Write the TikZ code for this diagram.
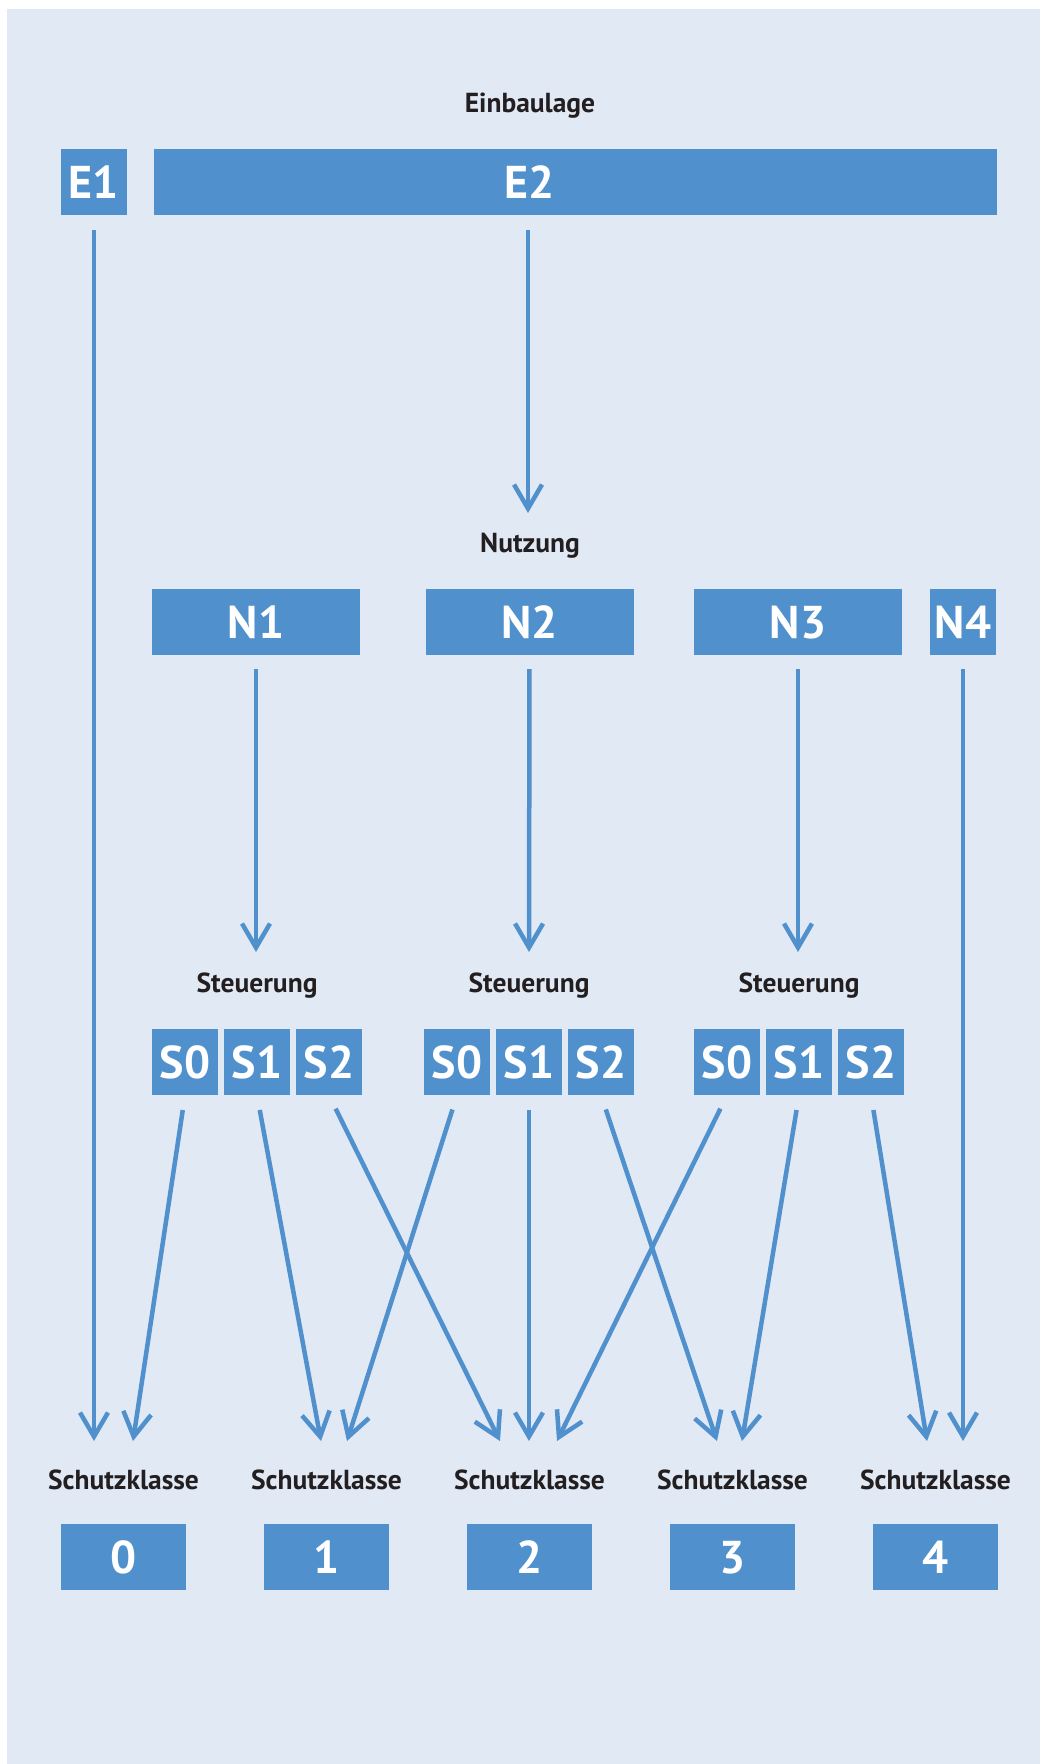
\documentclass[tikz,border=0pt]{standalone}
\usepackage{fontspec}
\setmainfont{PT Sans}
\usetikzlibrary{arrows.meta}
\definecolor{bgblue}{RGB}{225,233,245}
\definecolor{boxblue}{RGB}{80,145,205}
\definecolor{txt}{RGB}{35,31,32}
\tikzset{
  box/.style={fill=boxblue, draw=none, inner sep=0pt, text=white,
    font=\fontsize{46}{46}\selectfont\bfseries, text height=32pt, text depth=0pt,
    minimum height=66pt},
  boxtext/.style={inner sep=0pt, text=white,
    font=\fontsize{46}{46}\selectfont\bfseries, text height=32pt, text depth=0pt},
  lbl/.style={anchor=base, text=txt, inner sep=0pt, font=\fontsize{27.5}{28}\selectfont\bfseries},
  conn/.style={draw=boxblue, line width=4.5pt,
    -{Straight Barb[length=24pt,width=28pt,line width=4.5pt]}},
}
\begin{document}
\begin{tikzpicture}[x=1pt,y=-1pt]
\useasboundingbox (0,0) rectangle (1040,1764);
\fill[bgblue] (7,9) rectangle (1040,1764);
% labels
\node[lbl] (lE) at (530,112) {Einbaulage};
\node[lbl] (lN) at (530,552) {Nutzung};
\node[lbl] (lS1) at (257,992) {Steuerung};
\node[lbl] (lS2) at (529,992) {Steuerung};
\node[lbl] (lS3) at (799,992) {Steuerung};
\foreach \i/\x in {0/123.5,1/326.5,2/529.5,3/732.5,4/935.5}{
  \node[lbl] (lK\i) at (\x,1489) {Schutzklasse};
  \node[box, minimum width=125pt] (K\i) at (\x,1557) {\i};
}
% E boxes
\node[box, minimum width=66pt] (E1) at (94,182) {E1};
\node[box, minimum width=843pt] (E2) at (575.5,182) {};
\node[boxtext] (E2t) at (530,182) {E2};
% N boxes
\node[box, minimum width=208pt] (N1) at (256,622) {N1};
\node[box, minimum width=208pt] (N2) at (529.5,622) {N2};
\node[box, minimum width=208pt] (N3) at (798,622) {N3};
\node[box, minimum width=66pt] (N4) at (963,622) {N4};
% S boxes
\foreach \g/\a/\b/\c in {1/185/257/329, 2/457/529/601, 3/727/799/871}{
  \node[box, minimum width=66pt] (S\g0) at (\a,1062) {S0};
  \node[box, minimum width=66pt] (S\g1) at (\b,1062) {S1};
  \node[box, minimum width=66pt] (S\g2) at (\c,1062) {S2};
}
% tip coordinates
\coordinate (tE2) at (528,513);
\coordinate (tN1) at (256,952);
\coordinate (tN2) at (529,952);
\coordinate (tN3) at (798,952);
\coordinate (tE1) at (94,1441);
\coordinate (tN4) at (963,1441);
\coordinate (t10) at (133,1441);
\coordinate (t11) at (321,1441);
\coordinate (t12) at (500,1441);
\coordinate (t20) at (347,1441);
\coordinate (t21) at (529,1441);
\coordinate (t22) at (717,1441);
\coordinate (t30) at (557,1441);
\coordinate (t31) at (742,1441);
\coordinate (t32) at (927,1441);
% connectors
\draw[conn, shorten <=15pt] (E1.south) -- (tE1);
\draw[conn, shorten <=15pt] (E2.south -| tE2) -- (tE2);
\draw[conn, shorten <=14pt] (N1.south) -- (tN1);
\draw[conn, shorten <=14pt] (N2.south) -- (tN2);
\draw[conn, shorten <=14pt] (N3.south) -- (tN3);
\draw[conn, shorten <=14pt] (N4.south) -- (tN4);
\foreach \g in {1,2,3}{
  \foreach \s in {0,1,2}{
    \draw[conn, shorten <=15pt] (S\g\s.south) -- (t\g\s);
  }
}
\end{tikzpicture}
\end{document}
